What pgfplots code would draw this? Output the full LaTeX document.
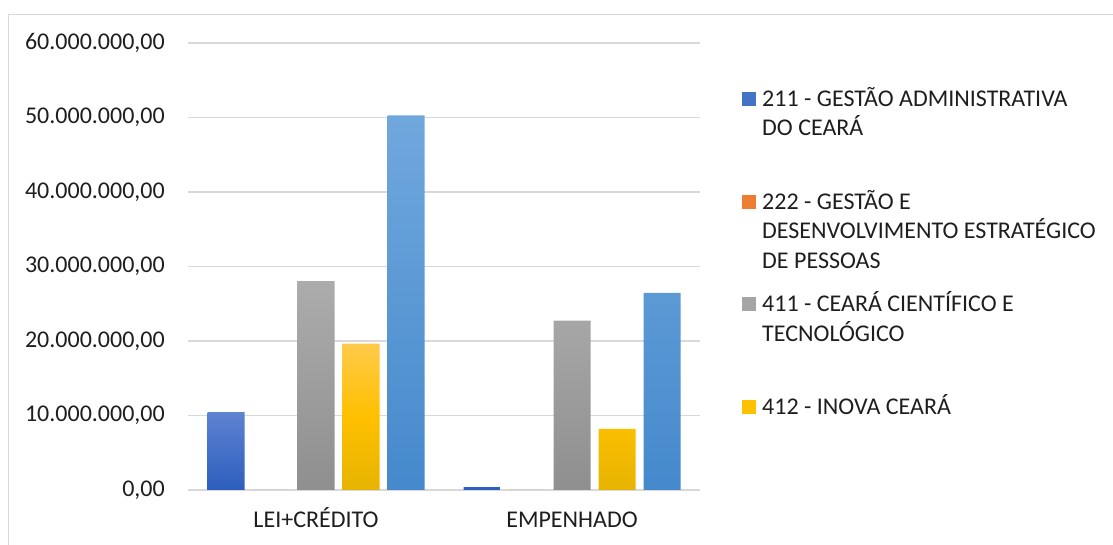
\documentclass[border=0pt]{standalone}
\usepackage{fontspec}
\setmainfont{Carlito}
\usepackage{pgfplots}
\pgfplotsset{compat=1.18}

\definecolor{gridgray}{HTML}{D9D9D9}
\definecolor{txt}{HTML}{1E1E1E}
\definecolor{blueA}{HTML}{4472C4}
\definecolor{blueTop}{HTML}{5E83D1}
\definecolor{blueBot}{HTML}{2D5EBE}
\definecolor{orangeA}{HTML}{ED7D31}
\definecolor{grayA}{HTML}{A5A5A5}
\definecolor{grayTop}{HTML}{ACACAC}
\definecolor{grayBot}{HTML}{8F8F8F}
\definecolor{yelA}{HTML}{FFC000}
\definecolor{yelTop}{HTML}{FFCA4A}
\definecolor{yelBot}{HTML}{E6B400}
\definecolor{skyTop}{HTML}{70A8DD}
\definecolor{skyBot}{HTML}{4589CC}

\newcommand{\lf}{\fontsize{24bp}{29bp}\selectfont}

\begin{document}
\begin{tikzpicture}[x=1bp,y=1bp]
\useasboundingbox (0,0) rectangle (1113,545);
% chart frame (only left and top edges visible)
\draw[gridgray, line width=1.5bp] (8.5,-5) -- (8.5,530.5) -- (1120,530.5);

\begin{axis}[
    at={(188bp,55bp)}, anchor=south west,
    scale only axis,
    width=512bp, height=447bp,
    xmin=-0.5, xmax=1.5,
    ymin=0, ymax=60000000,
    ytick={0,10000000,20000000,30000000,40000000,50000000,60000000},
    xtick={0,1},
    xticklabels={LEI+CRÉDITO, EMPENHADO},
    scaled y ticks=false,
    yticklabel={\pgfmathprintnumber[fixed, precision=2, zerofill, use comma, 1000 sep={.}, assume math mode=true]{\tick}},
    ymajorgrids,
    grid style={gridgray, line width=1.5bp},
    axis line style={draw=none},
    major tick length=0pt,
    ybar=8bp, bar width=37bp,
    tick label style={font=\lf, text=txt},
    yticklabel style={anchor=east, inner sep=0pt, xshift=-23bp},
    xticklabel style={anchor=base, inner sep=0pt, yshift=-38bp},
    clip=false,
]
% 211 - Gestao Administrativa do Ceara
\addplot[draw=none, top color=blueTop, bottom color=blueBot] coordinates {(0,10450000) (1,400000)};
% 222 - Gestao e Desenvolvimento Estrategico de Pessoas
\addplot[draw=none, fill=orangeA] coordinates {(0,0) (1,0)};
% 411 - Ceara Cientifico e Tecnologico
\addplot[draw=none, top color=grayTop, bottom color=grayBot] coordinates {(0,28050000) (1,22750000)};
% 412 - Inova Ceara
\addplot[draw=none, top color=yelTop, bottom color=yelBot, middle color=yelA] coordinates {(0,19650000) (1,8200000)};
% fifth series (legend entry cut off in the original)
\addplot[draw=none, top color=skyTop, bottom color=skyBot] coordinates {(0,50300000) (1,26450000)};
\end{axis}

% legend (drawn by hand to keep the original row pitch)
\fill[blueA]   (742,439) rectangle (756,453);
\fill[orangeA] (742,336) rectangle (756,350);
\fill[grayA]   (742,234) rectangle (756,248);
\fill[yelA]    (742,131) rectangle (756,145);
\begin{scope}[every node/.style={anchor=base west, inner sep=0pt, font=\lf, text=txt}]
\node at (762,438) {211 - GESTÃO ADMINISTRATIVA};
\node at (762,409) {DO CEARÁ};
\node at (762,335) {222 - GESTÃO E};
\node at (762,306.5) {DESENVOLVIMENTO ESTRATÉGICO};
\node at (762,276.5) {DE PESSOAS};
\node at (762,233) {411 - CEARÁ CIENTÍFICO E};
\node at (762,203) {TECNOLÓGICO};
\node at (762,130) {412 - INOVA CEARÁ};
\end{scope}
\end{tikzpicture}
\end{document}
